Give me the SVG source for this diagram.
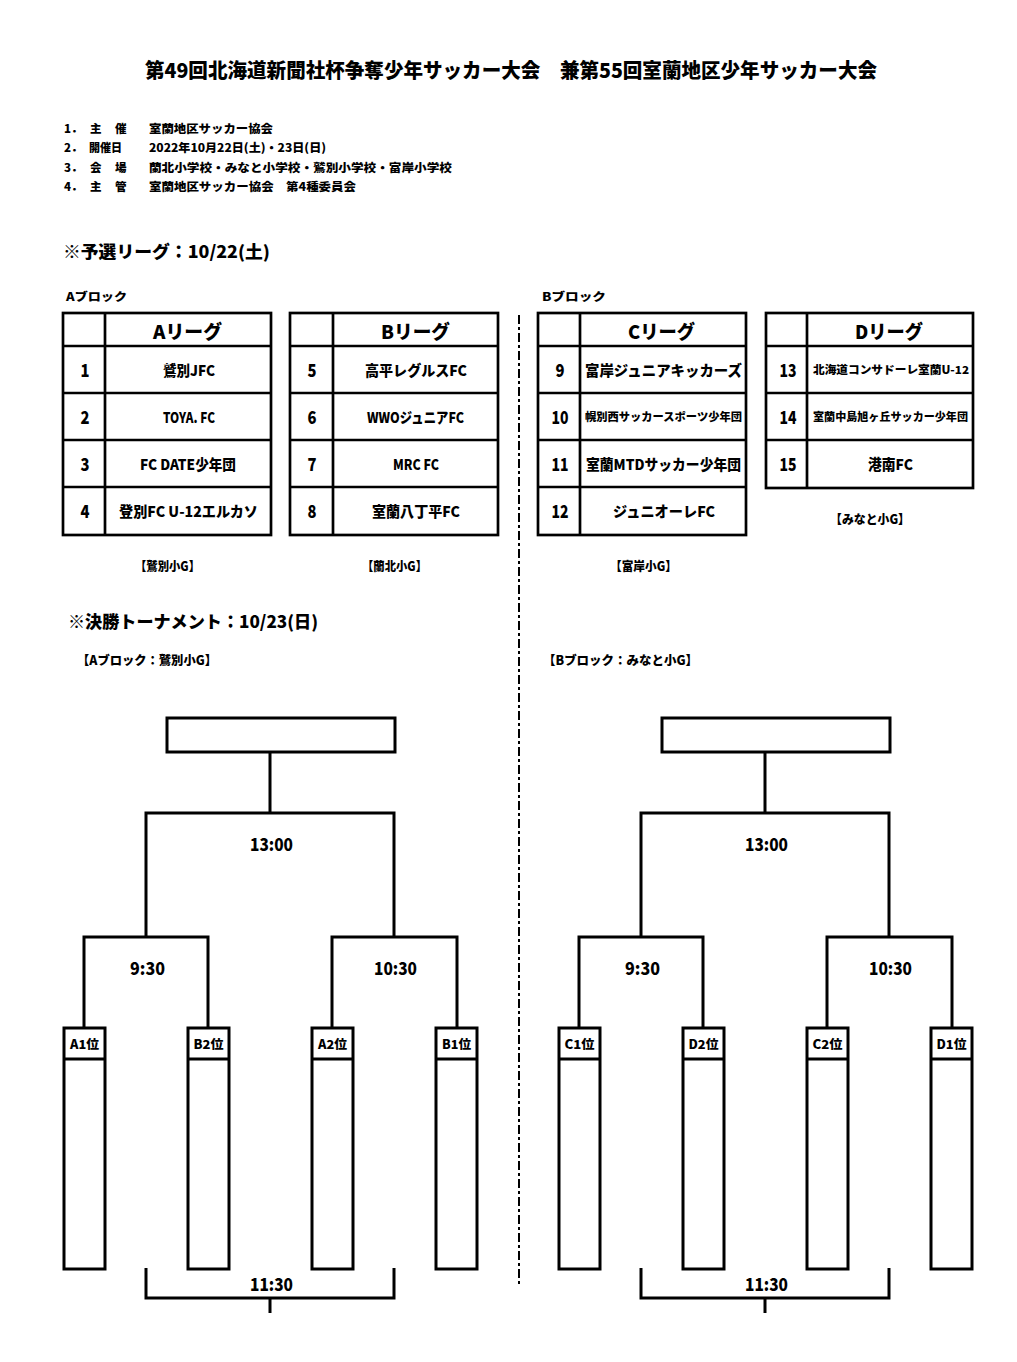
<svg xmlns="http://www.w3.org/2000/svg" width="1017" height="1362" viewBox="0 0 1017 1362">
<style>
.t{font-family:"Noto Sans CJK JP","Noto Sans CJK SC",sans-serif;font-weight:900;fill:#000;dominant-baseline:central}
.s11{font-size:11.5px}.s12{font-size:12.5px}.s13{font-size:14.5px}.s10{font-size:11px}.s16{font-size:17px}.s18{font-size:19px}.s19{font-size:20px}.n{font-size:18px}
.m{text-anchor:middle}
.tb{stroke:#000;stroke-width:2.7;fill:none}
.ln{stroke:#000;stroke-width:3;fill:none}
.box{stroke:#000;stroke-width:3;fill:#fff}
.dash{stroke:#000;stroke-width:2;stroke-dasharray:9 3 3 3;fill:none}
</style>
<rect x="0" y="0" width="1017" height="1362" fill="#fff"/>

<g id="title">
<text class="t s19" x="145" y="69" textLength="732" lengthAdjust="spacingAndGlyphs">第49回北海道新聞社杯争奪少年サッカー大会　兼第55回室蘭地区少年サッカー大会</text>
</g>

<g id="info">
<text class="t s11" x="64" y="128">1．</text><text class="t s11" x="90" y="128">主</text><text class="t s11" x="115" y="128">催</text>
<text class="t s11" x="149" y="128" textLength="124" lengthAdjust="spacingAndGlyphs">室蘭地区サッカー協会</text>
<text class="t s11" x="64" y="147">2．</text><text class="t s11" x="89" y="147" textLength="33" lengthAdjust="spacingAndGlyphs">開催日</text>
<text class="t s11" x="149" y="147" textLength="177" lengthAdjust="spacingAndGlyphs">2022年10月22日(土)・23日(日)</text>
<text class="t s11" x="64" y="167">3．</text><text class="t s11" x="90" y="167">会</text><text class="t s11" x="115" y="167">場</text>
<text class="t s11" x="149" y="167" textLength="303" lengthAdjust="spacingAndGlyphs">蘭北小学校・みなと小学校・鷲別小学校・富岸小学校</text>
<text class="t s11" x="64" y="186">4．</text><text class="t s11" x="90" y="186">主</text><text class="t s11" x="115" y="186">管</text>
<text class="t s11" x="149" y="186" textLength="207" lengthAdjust="spacingAndGlyphs">室蘭地区サッカー協会　第4種委員会</text>
</g>

<g id="sections">
<text class="t s16" x="63" y="250" textLength="207" lengthAdjust="spacingAndGlyphs">※予選リーグ：10/22(土)</text>
<text class="t s11" x="66" y="296" textLength="61" lengthAdjust="spacingAndGlyphs">Aブロック</text>
<text class="t s11" x="542" y="296" textLength="64" lengthAdjust="spacingAndGlyphs">Bブロック</text>
<text class="t s16" x="68" y="620" textLength="250" lengthAdjust="spacingAndGlyphs">※決勝トーナメント：10/23(日)</text>
<text class="t s12" x="77" y="659" textLength="140" lengthAdjust="spacingAndGlyphs">【Aブロック：鷲別小G】</text>
<text class="t s12" x="543" y="659" textLength="155" lengthAdjust="spacingAndGlyphs">【Bブロック：みなと小G】</text>
</g>

<g id="tableA">
<rect class="tb" x="63" y="313" width="208" height="222"/>
<path class="tb" d="M105 313V535M63 346H271M63 393H271M63 440H271M63 487H271"/>
<text class="t s18" x="153" y="330" textLength="69" lengthAdjust="spacingAndGlyphs">Aリーグ</text>
<text class="t n m" x="85" y="369" textLength="9" lengthAdjust="spacingAndGlyphs">1</text><text class="t n m" x="85" y="416" textLength="9" lengthAdjust="spacingAndGlyphs">2</text><text class="t n m" x="85" y="463" textLength="9" lengthAdjust="spacingAndGlyphs">3</text><text class="t n m" x="85" y="510" textLength="9" lengthAdjust="spacingAndGlyphs">4</text>
<text class="t s13" x="163" y="369" textLength="52" lengthAdjust="spacingAndGlyphs">鷲別JFC</text>
<text class="t s13" x="163" y="416" textLength="52" lengthAdjust="spacingAndGlyphs">TOYA. FC</text>
<text class="t s13" x="140" y="463" textLength="96" lengthAdjust="spacingAndGlyphs">FC DATE少年団</text>
<text class="t s13" x="119" y="510" textLength="139" lengthAdjust="spacingAndGlyphs">登別FC U-12エルカソ</text>
</g>

<g id="tableB">
<rect class="tb" x="290" y="313" width="208" height="222"/>
<path class="tb" d="M333 313V535M290 346H498M290 393H498M290 440H498M290 487H498"/>
<text class="t s18" x="381" y="330" textLength="69" lengthAdjust="spacingAndGlyphs">Bリーグ</text>
<text class="t n m" x="312" y="369" textLength="9" lengthAdjust="spacingAndGlyphs">5</text><text class="t n m" x="312" y="416" textLength="9" lengthAdjust="spacingAndGlyphs">6</text><text class="t n m" x="312" y="463" textLength="9" lengthAdjust="spacingAndGlyphs">7</text><text class="t n m" x="312" y="510" textLength="9" lengthAdjust="spacingAndGlyphs">8</text>
<text class="t s13" x="365" y="369" textLength="102" lengthAdjust="spacingAndGlyphs">高平レグルスFC</text>
<text class="t s13" x="367" y="416" textLength="97" lengthAdjust="spacingAndGlyphs">WWOジュニアFC</text>
<text class="t s13" x="393" y="463" textLength="46" lengthAdjust="spacingAndGlyphs">MRC FC</text>
<text class="t s13" x="372" y="510" textLength="88" lengthAdjust="spacingAndGlyphs">室蘭八丁平FC</text>
</g>

<g id="tableC">
<rect class="tb" x="538" y="313" width="208" height="222"/>
<path class="tb" d="M580 313V535M538 346H746M538 393H746M538 440H746M538 487H746"/>
<text class="t s18" x="628" y="330" textLength="67" lengthAdjust="spacingAndGlyphs">Cリーグ</text>
<text class="t n m" x="560" y="369" textLength="9" lengthAdjust="spacingAndGlyphs">9</text><text class="t n m" x="560" y="416" textLength="17" lengthAdjust="spacingAndGlyphs">10</text><text class="t n m" x="560" y="463" textLength="17" lengthAdjust="spacingAndGlyphs">11</text><text class="t n m" x="560" y="510" textLength="17" lengthAdjust="spacingAndGlyphs">12</text>
<text class="t s13" x="585" y="369" textLength="157" lengthAdjust="spacingAndGlyphs">富岸ジュニアキッカーズ</text>
<text class="t s10" x="585" y="416" textLength="157" lengthAdjust="spacingAndGlyphs">幌別西サッカースポーツ少年団</text>
<text class="t s13" x="586" y="463" textLength="155" lengthAdjust="spacingAndGlyphs">室蘭MTDサッカー少年団</text>
<text class="t s13" x="613" y="510" textLength="102" lengthAdjust="spacingAndGlyphs">ジュニオーレFC</text>
</g>

<g id="tableD">
<rect class="tb" x="766" y="313" width="207" height="175"/>
<path class="tb" d="M807 313V488M766 346H973M766 393H973M766 440H973"/>
<text class="t s18" x="855" y="330" textLength="68" lengthAdjust="spacingAndGlyphs">Dリーグ</text>
<text class="t n m" x="788" y="369" textLength="17" lengthAdjust="spacingAndGlyphs">13</text><text class="t n m" x="788" y="416" textLength="17" lengthAdjust="spacingAndGlyphs">14</text><text class="t n m" x="788" y="463" textLength="17" lengthAdjust="spacingAndGlyphs">15</text>
<text class="t s10" x="813" y="369" textLength="156" lengthAdjust="spacingAndGlyphs">北海道コンサドーレ室蘭U-12</text>
<text class="t s10" x="813" y="416" textLength="155" lengthAdjust="spacingAndGlyphs">室蘭中島旭ヶ丘サッカー少年団</text>
<text class="t s13" x="868" y="463" textLength="45" lengthAdjust="spacingAndGlyphs">港南FC</text>
</g>

<g id="venues">
<text class="t s12" x="135" y="565" textLength="65" lengthAdjust="spacingAndGlyphs">【鷲別小G】</text>
<text class="t s12" x="362" y="565" textLength="65" lengthAdjust="spacingAndGlyphs">【蘭北小G】</text>
<text class="t s12" x="610" y="565" textLength="67" lengthAdjust="spacingAndGlyphs">【富岸小G】</text>
<text class="t s12" x="830" y="518" textLength="80" lengthAdjust="spacingAndGlyphs">【みなと小G】</text>
</g>

<g id="divider">
<path class="dash" d="M519 315V1284"/>
</g>

<g id="connectors">
<path class="ln" d="M270 752V813M146 937V813H394V937M84 1028V937H208V1028M332 1028V937H457V1028M146 1268V1298H394V1268M270 1298V1313"/>
<path class="ln" d="M765 752V813M641 937V813H889V937M579 1028V937H703V1028M827 1028V937H952V1028M641 1268V1298H889V1268M765 1298V1313"/>
</g>

<g id="finalA"><rect class="box" x="167" y="718" width="228" height="34"/></g>
<g id="finalB"><rect class="box" x="662" y="718" width="228" height="34"/></g>

<g id="slotA1"><rect class="box" x="64" y="1028" width="41" height="241"/><path class="ln" d="M64 1059H105"/><text class="t s12 m" x="84.5" y="1043" textLength="29" lengthAdjust="spacingAndGlyphs">A1位</text></g>
<g id="slotB2"><rect class="box" x="188" y="1028" width="41" height="241"/><path class="ln" d="M188 1059H229"/><text class="t s12 m" x="208.5" y="1043" textLength="30" lengthAdjust="spacingAndGlyphs">B2位</text></g>
<g id="slotA2"><rect class="box" x="312" y="1028" width="41" height="241"/><path class="ln" d="M312 1059H353"/><text class="t s12 m" x="332.5" y="1043" textLength="29" lengthAdjust="spacingAndGlyphs">A2位</text></g>
<g id="slotB1"><rect class="box" x="436" y="1028" width="41" height="241"/><path class="ln" d="M436 1059H477"/><text class="t s12 m" x="456.5" y="1043" textLength="29" lengthAdjust="spacingAndGlyphs">B1位</text></g>

<g id="slotC1"><rect class="box" x="559" y="1028" width="41" height="241"/><path class="ln" d="M559 1059H600"/><text class="t s12 m" x="579.5" y="1043" textLength="30" lengthAdjust="spacingAndGlyphs">C1位</text></g>
<g id="slotD2"><rect class="box" x="683" y="1028" width="41" height="241"/><path class="ln" d="M683 1059H724"/><text class="t s12 m" x="703.5" y="1043" textLength="30" lengthAdjust="spacingAndGlyphs">D2位</text></g>
<g id="slotC2"><rect class="box" x="807" y="1028" width="41" height="241"/><path class="ln" d="M807 1059H848"/><text class="t s12 m" x="827.5" y="1043" textLength="30" lengthAdjust="spacingAndGlyphs">C2位</text></g>
<g id="slotD1"><rect class="box" x="931" y="1028" width="41" height="241"/><path class="ln" d="M931 1059H972"/><text class="t s12 m" x="951.5" y="1043" textLength="30" lengthAdjust="spacingAndGlyphs">D1位</text></g>

<g id="times">
<text class="t s16" x="250" y="843" textLength="43" lengthAdjust="spacingAndGlyphs">13:00</text>
<text class="t s16" x="130" y="967" textLength="35" lengthAdjust="spacingAndGlyphs">9:30</text>
<text class="t s16" x="374" y="967" textLength="43" lengthAdjust="spacingAndGlyphs">10:30</text>
<text class="t s16" x="250" y="1283" textLength="43" lengthAdjust="spacingAndGlyphs">11:30</text>
<text class="t s16" x="745" y="843" textLength="43" lengthAdjust="spacingAndGlyphs">13:00</text>
<text class="t s16" x="625" y="967" textLength="35" lengthAdjust="spacingAndGlyphs">9:30</text>
<text class="t s16" x="869" y="967" textLength="43" lengthAdjust="spacingAndGlyphs">10:30</text>
<text class="t s16" x="745" y="1283" textLength="43" lengthAdjust="spacingAndGlyphs">11:30</text>
</g>
</svg>
